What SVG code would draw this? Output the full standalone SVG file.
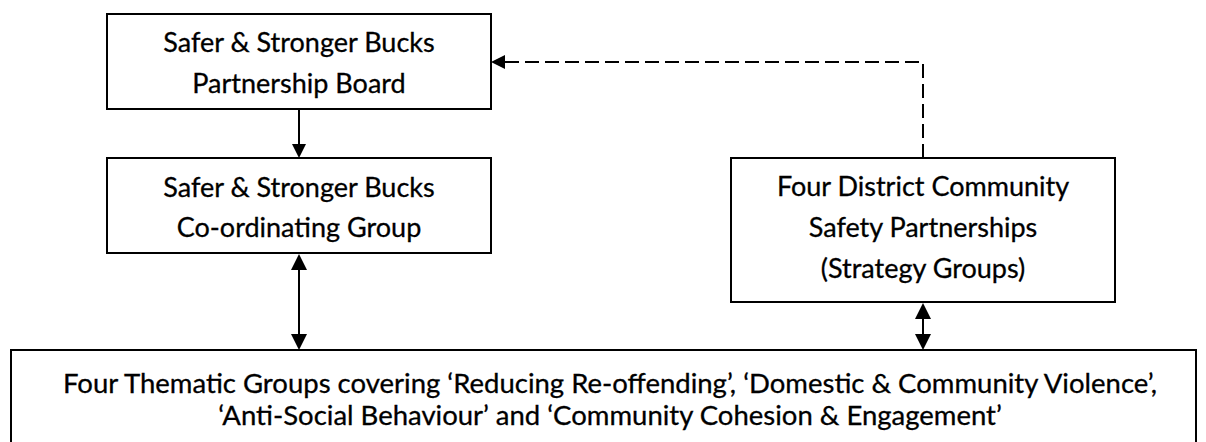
<svg xmlns="http://www.w3.org/2000/svg" width="1206" height="442" viewBox="0 0 1206 442">
  <style>
    .box { fill: #ffffff; stroke: #000000; stroke-width: 2; }
    .lbl { font-family: Lato, "Open Sans", "Liberation Sans", sans-serif; font-size: 27px; fill: #000000; stroke: #000000; stroke-width: 0.3; text-anchor: middle; }
    .wide { font-size: 27.5px; }
    .conn { fill: none; stroke: #000000; stroke-width: 2; }
    .dash { stroke-dasharray: 14 6; }
  </style>
  <defs>
    <marker id="arr" markerUnits="userSpaceOnUse" viewBox="0 0 16 16" markerWidth="16" markerHeight="16" refX="14" refY="8" orient="auto-start-reverse">
      <path d="M0,0 L16,8 L0,16 Z" fill="#000000"/>
    </marker>
    <marker id="arrS" markerUnits="userSpaceOnUse" viewBox="0 0 14 14" markerWidth="14" markerHeight="14" refX="12" refY="7" orient="auto-start-reverse">
      <path d="M0,0 L14,7 L0,14 Z" fill="#000000"/>
    </marker>
  </defs>

  <g id="connectors">
    <line class="conn" x1="299" y1="109" x2="299" y2="156" marker-end="url(#arrS)"/>
    <line class="conn" x1="299" y1="256" x2="299" y2="348" marker-start="url(#arr)" marker-end="url(#arr)"/>
    <line class="conn" x1="923" y1="305" x2="923" y2="348" marker-start="url(#arr)" marker-end="url(#arr)"/>
    <path class="conn dash" d="M923,158 V62 H493" marker-end="url(#arrS)"/>
  </g>

  <g id="board">
    <rect class="box" x="107" y="14" width="384" height="95"/>
    <text class="lbl" x="299" y="52">Safer &amp; Stronger Bucks</text>
    <text class="lbl" x="299" y="93">Partnership Board</text>
  </g>

  <g id="coordinating">
    <rect class="box" x="107" y="158" width="384" height="95"/>
    <text class="lbl" x="299" y="197">Safer &amp; Stronger Bucks</text>
    <text class="lbl" x="299" y="237">Co-ordinating Group</text>
  </g>

  <g id="district">
    <rect class="box" x="731" y="158" width="384" height="144"/>
    <text class="lbl" x="923" y="196">Four District Community</text>
    <text class="lbl" x="923" y="237">Safety Partnerships</text>
    <text class="lbl" x="923" y="278">(Strategy Groups)</text>
  </g>

  <g id="thematic">
    <rect class="box" x="11" y="350" width="1185" height="110"/>
    <text class="lbl wide" x="610" y="393">Four Thematic Groups covering ‘Reducing Re-offending’, ‘Domestic &amp; Community Violence’,</text>
    <text class="lbl wide" x="610" y="425">‘Anti-Social Behaviour’ and ‘Community Cohesion &amp; Engagement’</text>
  </g>
</svg>
